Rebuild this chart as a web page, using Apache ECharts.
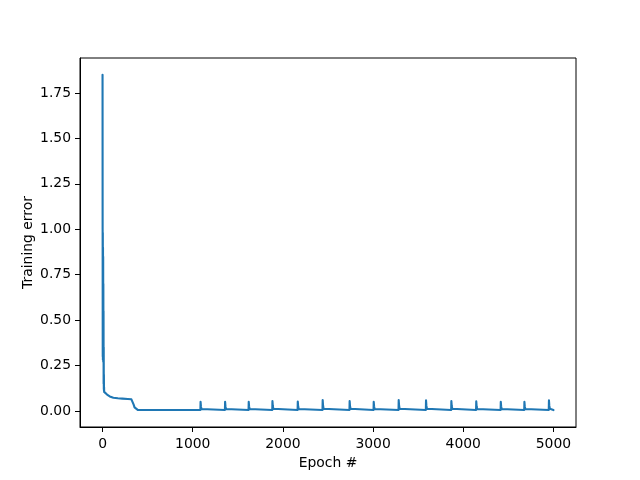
<!DOCTYPE html>
<html>
<head>
<meta charset="utf-8">
<script src="https://cdn.jsdelivr.net/npm/echarts@6/dist/echarts.min.js"></script>
<style>html,body{margin:0;padding:0;background:#fff;}#chart{width:640px;height:480px;}</style>
</head>
<body>
<div id="chart"></div>
<script>
// Epoch numbers and training error values
var epochs = [
  0, 1, 2, 3, 4, 5, 6, 7, 8, 9, 10, 11, 12, 13, 14, 15, 16, 17, 18, 20, 30, 50, 80, 120, 170, 220, 280, 320, 335, 345, 355, 370, 390, 450, 600,
  1085, 1087, 1091, 1097, 1112,
  1357, 1359, 1363, 1369, 1384,
  1619, 1621, 1625, 1631, 1646,
  1882, 1884, 1888, 1894, 1909,
  2163, 2165, 2169, 2175, 2190,
  2439, 2441, 2445, 2451, 2466,
  2738, 2740, 2744, 2750, 2765,
  3005, 3007, 3011, 3017, 3032,
  3282, 3284, 3288, 3294, 3309,
  3585, 3587, 3591, 3597, 3612,
  3866, 3868, 3872, 3878, 3893,
  4142, 4144, 4148, 4154, 4169,
  4414, 4416, 4420, 4426, 4441,
  4676, 4678, 4682, 4688, 4703,
  4948, 4950, 4954, 4960, 4975,
  5000
];
var errors = [
  1.85, 1.0, 0.3, 0.98, 0.28, 0.9, 0.3, 0.85, 0.27, 0.7, 0.3, 0.55, 0.15, 0.35, 0.12, 0.2, 0.11, 0.13, 0.105, 0.1, 0.097, 0.09, 0.08, 0.073, 0.07, 0.068, 0.066, 0.064, 0.058, 0.035, 0.02, 0.01, 0.006, 0.005, 0.005,
  0.005, 0.050, 0.025, 0.011, 0.005,
  0.005, 0.050, 0.025, 0.011, 0.005,
  0.005, 0.050, 0.025, 0.011, 0.005,
  0.005, 0.055, 0.027, 0.012, 0.005,
  0.005, 0.052, 0.026, 0.011, 0.005,
  0.005, 0.060, 0.030, 0.012, 0.005,
  0.005, 0.055, 0.027, 0.012, 0.005,
  0.005, 0.050, 0.025, 0.011, 0.005,
  0.005, 0.060, 0.030, 0.012, 0.005,
  0.005, 0.058, 0.029, 0.012, 0.005,
  0.005, 0.055, 0.027, 0.012, 0.005,
  0.005, 0.053, 0.026, 0.011, 0.005,
  0.005, 0.050, 0.025, 0.011, 0.005,
  0.005, 0.050, 0.025, 0.011, 0.005,
  0.005, 0.058, 0.029, 0.012, 0.005,
  0.005
];
var xTicks = [0, 1000, 2000, 3000, 4000, 5000];
var yTicks = [0, 0.25, 0.5, 0.75, 1.0, 1.25, 1.5, 1.75];

var seriesData = epochs.map(function (e, i) { return [e, errors[i]]; });
var font = 'DejaVu Sans';
var chart = echarts.init(document.getElementById('chart'), null, {renderer: 'canvas'});
chart.setOption({
  animation: false,
  backgroundColor: '#fff',
  grid: {left: 80, right: 64, top: 58, bottom: 53, show: true, borderColor: '#000', borderWidth: 1, backgroundColor: 'transparent'},
  xAxis: {
    type: 'value', min: -250, max: 5250,
    name: 'Epoch #', nameLocation: 'middle', nameGap: 29,
    nameTextStyle: {fontFamily: font, fontSize: 13.9, color: '#000'},
    axisLine: {show: true, onZero: false, lineStyle: {color: '#000', width: 1}},
    axisTick: {show: true, inside: false, length: 5, customValues: xTicks, lineStyle: {color: '#000', width: 1}},
    axisLabel: {customValues: xTicks, margin: 10, fontFamily: font, fontSize: 13.9, color: '#000',
      formatter: function (v) { return String(v); }},
    splitLine: {show: false}
  },
  yAxis: {
    type: 'value', min: -0.0883, max: 1.9423,
    name: 'Training error', nameLocation: 'middle', nameGap: 45, nameRotate: 90, nameMoveOverlap: false,
    nameTextStyle: {fontFamily: font, fontSize: 13.9, color: '#000'},
    axisLine: {show: true, onZero: false, lineStyle: {color: '#000', width: 1}},
    axisTick: {show: true, inside: false, length: 5, customValues: yTicks, lineStyle: {color: '#000', width: 1}},
    axisLabel: {customValues: yTicks, margin: 9, fontFamily: font, fontSize: 13.9, color: '#000',
      formatter: function (v) { return v.toFixed(2); }},
    splitLine: {show: false}
  },
  series: [{
    type: 'line', data: seriesData, showSymbol: false, symbol: 'none',
    lineStyle: {color: '#1f77b4', width: 2.1, join: 'round', cap: 'round'}, itemStyle: {color: '#1f77b4'}
  }]
});
</script>
</body>
</html>
